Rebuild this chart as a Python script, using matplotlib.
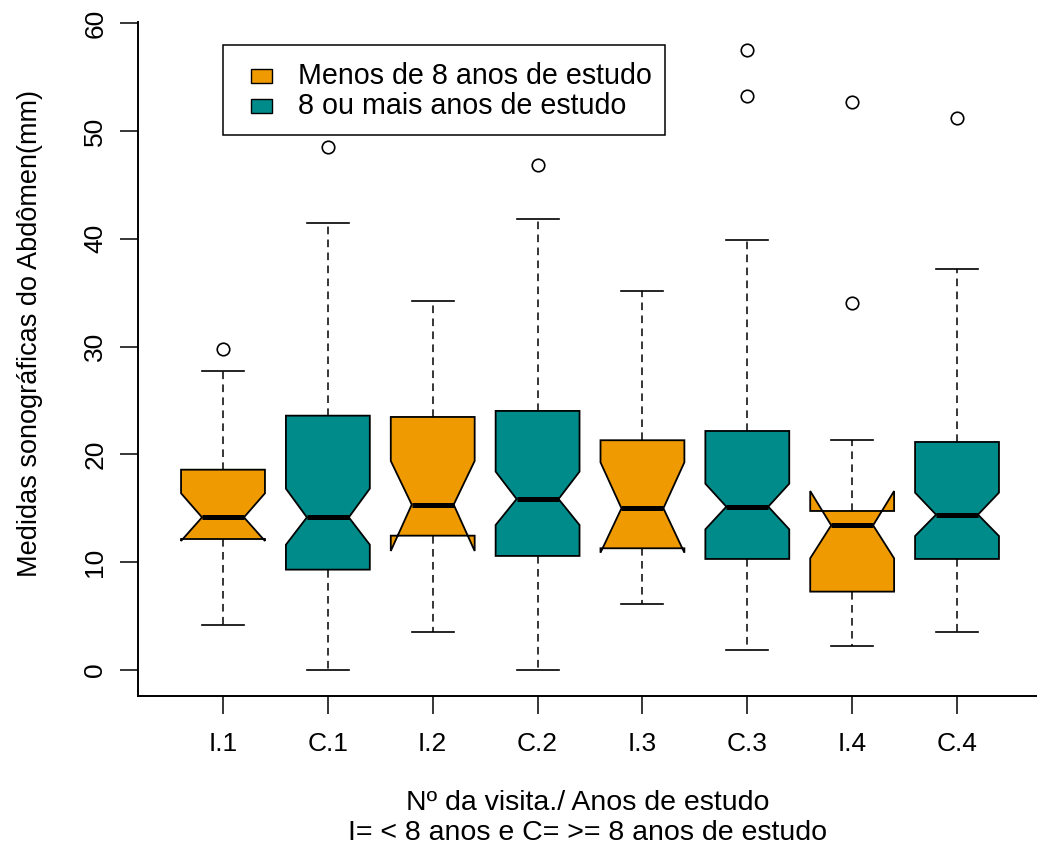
import matplotlib
matplotlib.use("Agg")
import matplotlib.pyplot as plt
from matplotlib.patches import Rectangle
from matplotlib import font_manager

# Group labels (visit number / schooling group)
labels = ["I.1", "C.1", "I.2", "C.2", "I.3", "C.3", "I.4", "C.4"]

# Five-number summaries, notch limits and outliers (mm)
q1 = [12.15, 9.31, 12.46, 10.58, 11.29, 10.30, 7.27, 10.30]
med = [14.16, 14.16, 15.34, 15.86, 15.00, 15.15, 13.42, 14.41]
q3 = [18.58, 23.59, 23.47, 24.03, 21.31, 22.17, 14.75, 21.15]
cilo = [11.97, 11.62, 11.04, 13.45, 10.88, 13.05, 10.36, 12.43]
cihi = [16.39, 16.82, 19.39, 18.40, 19.26, 17.28, 16.60, 16.45]
whislo = [4.14, 0.00, 3.56, 0.00, 6.15, 1.86, 2.26, 3.56]
whishi = [27.77, 41.47, 34.20, 41.84, 35.19, 39.90, 21.31, 37.20]
fliers = [[29.75], [48.5], [], [46.85], [], [57.5, 53.2], [34.04, 52.7], [51.2]]

legend_labels = ["Menos de 8 anos de estudo", "8 ou mais anos de estudo"]
ORANGE = "#EE9A00"
TEAL = "#008B8B"
colors = [ORANGE, TEAL] * 4
legend_colors = [ORANGE, TEAL]

available = {f.name for f in font_manager.fontManager.ttflist}
NARROW = "Liberation Sans Narrow" if "Liberation Sans Narrow" in available else "Liberation Sans"
AXFONT = [NARROW, "Liberation Sans", "DejaVu Sans"]
plt.rcParams["font.family"] = ["Liberation Sans", "DejaVu Sans"]

W, H = 1037, 850
fig = plt.figure(figsize=(W / 100, H / 100), dpi=100)
ax = fig.add_axes([138 / W, 154 / H, 1 - 138 / W, 674 / H])

stats = []
for i, lab in enumerate(labels):
    stats.append(dict(label=lab, q1=q1[i], med=med[i], q3=q3[i],
                      cilo=cilo[i], cihi=cihi[i],
                      whislo=whislo[i], whishi=whishi[i], fliers=fliers[i]))

positions = list(range(1, len(labels) + 1))
bp = ax.bxp(stats, positions=positions, widths=0.8, shownotches=True,
            patch_artist=True,
            boxprops=dict(edgecolor="black", linewidth=1.3),
            medianprops=dict(color="black", linewidth=3.6, solid_capstyle="butt"),
            whiskerprops=dict(color="black", linewidth=1.1, linestyle=(0, (5, 3.5))),
            capprops=dict(color="black", linewidth=1.2),
            flierprops=dict(marker="o", markerfacecolor="none",
                            markeredgecolor="black", markersize=9,
                            markeredgewidth=1.2))
for patch, c in zip(bp["boxes"], colors):
    patch.set_facecolor(c)

ax.set_xlim(1 + (138 - 223) / 104.86, 1 + (W - 223) / 104.86)
ax.set_ylim(-2.41, 60.1)
ax.set_yticks(range(0, 61, 10))
ax.set_xticks(positions)
ax.set_xticklabels(labels, fontsize=19, family=AXFONT)
for t in ax.get_yticklabels():
    t.set_rotation(90)
    t.set_verticalalignment("center")
    t.set_fontsize(19)
ax.tick_params(axis="y", length=13, width=1.1, pad=9)
ax.tick_params(axis="x", length=13, width=1.1, pad=13)

for side in ("top", "right"):
    ax.spines[side].set_visible(False)
for side in ("left", "bottom"):
    ax.spines[side].set_linewidth(1.4)

fig.text(0.567, 1 - 803 / H, "Nº da visita./ Anos de estudo",
         ha="center", va="center", fontsize=20.5, family=AXFONT)
fig.text(0.567, 1 - 833 / H, "I= < 8 anos e C= >= 8 anos de estudo",
         ha="center", va="center", fontsize=20.5, family=AXFONT)
fig.text(30 / W, 1 - 333 / H, "Medidas sonográficas do Abdômen(mm)",
         ha="center", va="center", rotation=90, fontsize=19.5, family=AXFONT)

# Legend box, drawn in figure pixel coordinates
def px(x, y):
    return x / W, 1 - y / H

frame = Rectangle(px(223, 135), (665 - 223) / W, (135 - 45) / H,
                  transform=fig.transFigure, facecolor="white",
                  edgecolor="black", linewidth=1.1, zorder=5)
fig.add_artist(frame)
for k, (lab, col) in enumerate(zip(legend_labels, legend_colors)):
    yc = 76 + 29.5 * k
    sq = Rectangle(px(251, yc + 7), 21 / W, 14 / H, transform=fig.transFigure,
                   facecolor=col, edgecolor="black", linewidth=1.0, zorder=6)
    fig.add_artist(sq)
    fig.text(*px(298, yc), lab, ha="left", va="center", fontsize=20.6, zorder=7)

fig.savefig("out.png", dpi=100)
